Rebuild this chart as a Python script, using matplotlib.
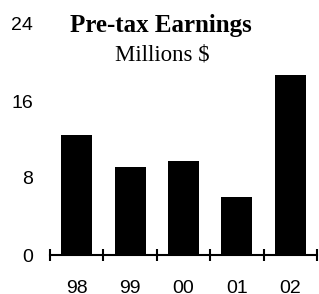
import matplotlib
matplotlib.use('Agg')
import matplotlib.pyplot as plt
import numpy as np

# data
years = ['98', '99', '00', '01', '02']
earnings = [12.5, 9.1, 9.8, 6.0, 18.7]
y_ticks = [0, 8, 16, 24]

fig = plt.figure(figsize=(3.19, 2.94), dpi=100)
ax = fig.add_axes([50 / 319, 1 - 255 / 294, 267 / 319, 231 / 294])

x = np.arange(len(years))
ax.bar(x, earnings, width=0.58, color='black', zorder=2)

ax.set_xlim(-0.5, len(years) - 0.5)
ax.set_ylim(0, 24)

for side in ['left', 'right', 'top']:
    ax.spines[side].set_visible(False)
ax.spines['bottom'].set_linewidth(1.5)
ax.spines['bottom'].set_zorder(3)

# y ticks: labels only
ax.set_yticks(y_ticks)
ax.set_yticklabels([str(v) for v in y_ticks], family='Liberation Sans', fontsize=14)
ax.tick_params(axis='y', length=0, pad=12)

# x ticks: marks between categories, labels centered
ax.set_xticks(np.arange(len(years) + 1) - 0.5)
ax.set_xticklabels([])
ax.tick_params(axis='x', which='major', direction='inout', length=9, width=1.5)
ax.set_xticks(x, minor=True)
ax.set_xticklabels(years, minor=True, family='Liberation Sans', fontsize=14)
ax.tick_params(axis='x', which='minor', length=0, pad=18)

fig.text(161 / 319, 1 - 32 / 294, 'Pre-tax Earnings', ha='center', va='baseline',
         family='Liberation Serif', fontweight='bold', fontsize=18)
fig.text(162 / 319, 1 - 61 / 294, 'Millions $', ha='center', va='baseline',
         family='Liberation Serif', fontsize=16.5)

fig.savefig('out.png', dpi=100)
